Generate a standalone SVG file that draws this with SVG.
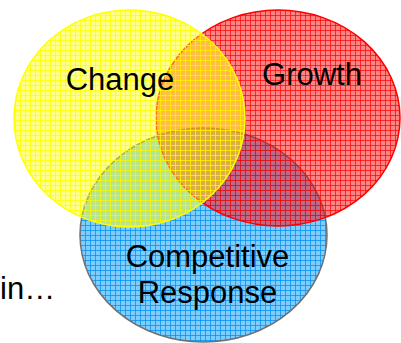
<svg xmlns="http://www.w3.org/2000/svg" width="401" height="343" viewBox="0 0 401 343">
  <defs>
    <pattern id="gridY" patternUnits="userSpaceOnUse" width="5" height="5">
      <rect width="5" height="5" fill="#ffff00" fill-opacity="0.45"/>
      <path d="M0 0.5H5M0.5 0V5" stroke="#ffff00" stroke-width="1" stroke-opacity="0.8"/>
    </pattern>
    <pattern id="gridR" patternUnits="userSpaceOnUse" width="5" height="5">
      <rect width="5" height="5" fill="#ff0000" fill-opacity="0.48"/>
      <path d="M0 0.5H5M0.5 0V5" stroke="#ff0000" stroke-width="1" stroke-opacity="0.7"/>
    </pattern>
    <pattern id="gridB" patternUnits="userSpaceOnUse" width="5" height="5">
      <rect width="5" height="5" fill="#0099ff" fill-opacity="0.5"/>
      <path d="M0 0.5H5M0.5 0V5" stroke="#0090f0" stroke-width="1" stroke-opacity="0.75"/>
    </pattern>
  </defs>
  <style>
    text { font-family: "Liberation Sans", Arial, sans-serif; font-size: 31px; fill: #000; }
    .mid { text-anchor: middle; }
  </style>
  <rect width="401" height="343" fill="#ffffff"/>
  <g id="competitive-response">
    <ellipse cx="203.5" cy="235" rx="123.5" ry="107" fill="url(#gridB)" stroke="#707070" stroke-width="1.5"/>
  </g>
  <g id="growth">
    <ellipse cx="278" cy="118" rx="122" ry="108" fill="url(#gridR)" stroke="#ff0000" stroke-width="1.5"/>
  </g>
  <g id="change">
    <ellipse cx="129.5" cy="118.5" rx="115.5" ry="108.5" fill="url(#gridY)" stroke="#ffff00" stroke-width="1.5"/>
  </g>
  <g id="connectors"/>
  <g id="labels">
    <text class="mid" x="120" y="90">Change</text>
    <text class="mid" x="312" y="85">Growth</text>
    <text class="mid" x="207.5" y="267">Competitive</text>
    <text class="mid" x="207.5" y="303">Response</text>
    <text x="0" y="299">in…</text>
  </g>
</svg>
